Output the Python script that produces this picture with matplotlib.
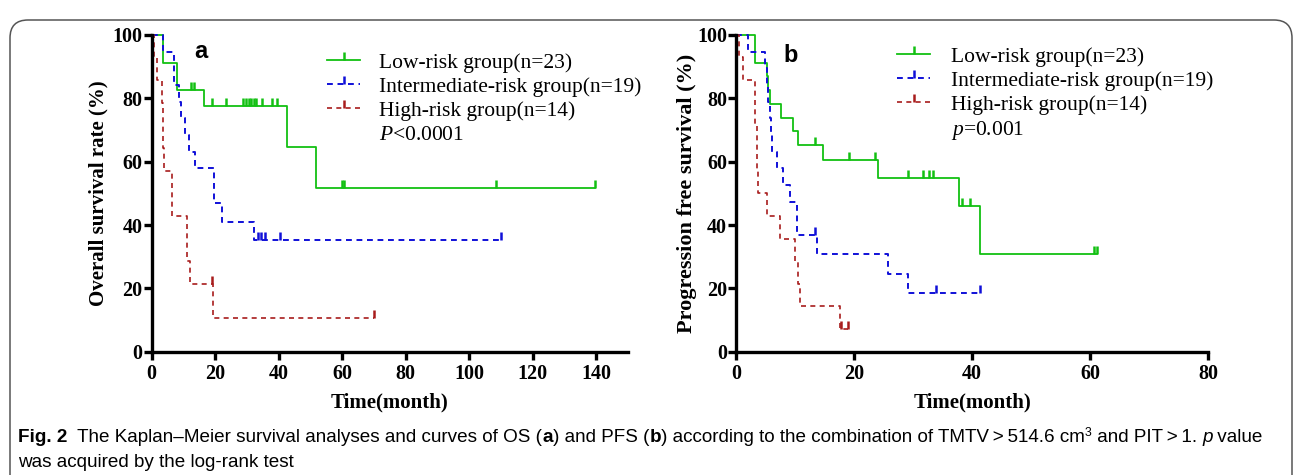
import numpy as np
import matplotlib
matplotlib.use("Agg")
import matplotlib.pyplot as plt
from matplotlib.lines import Line2D
from matplotlib.patches import FancyBboxPatch
from matplotlib.transforms import IdentityTransform

# ---------------- data ----------------
# Panel a: overall survival
os_low_t = [0, 3.7, 7.9, 16.6, 42.6, 51.6, 139.5]
os_low_s = [100, 91.3, 82.6, 77.7, 64.7, 51.8, 51.8]
os_low_cens = [12.3, 13.4, 18.9, 23.4, 28.9, 29.8, 30.5, 31.3, 32.1, 33.0,
               34.7, 37.9, 39.5, 60.0, 60.6, 108.5, 139.5]
os_int_t = [0, 3.7, 7.0, 8.5, 9.3, 10.5, 11.8, 13.7, 19.6, 22.1, 32.1, 110.0]
os_int_s = [100, 94.7, 84.2, 78.9, 73.7, 68.4, 63.2, 57.9, 46.9, 41.0, 35.2, 35.2]
os_int_cens = [33.6, 34.5, 35.8, 40.5, 110.0]
os_high_t = [0, 0.8, 1.6, 3.3, 3.5, 3.7, 3.9, 6.3, 11.0, 12.0, 19.4, 70.0]
os_high_s = [100, 92.9, 85.7, 78.6, 71.4, 64.3, 57.1, 42.9, 28.6, 21.4, 10.7, 10.7]
os_high_cens = [18.9, 70.0]

# Panel b: progression free survival
pfs_low_t = [0, 3.2, 5.2, 5.5, 5.8, 7.6, 9.6, 10.5, 14.7, 24.1, 37.7, 41.4, 61.1]
pfs_low_s = [100, 91.3, 87.0, 82.6, 78.3, 73.9, 69.6, 65.2, 60.5, 55.0, 46.0, 30.8, 30.8]
pfs_low_cens = [13.4, 19.2, 23.6, 29.2, 31.6, 32.7, 33.4, 38.2, 39.7, 60.6, 61.1]
pfs_int_t = [0, 2.0, 4.9, 5.2, 5.5, 5.7, 5.9, 6.1, 6.9, 8.0, 9.2, 10.3, 13.8, 25.8, 29.2, 41.4]
pfs_int_s = [100, 94.7, 89.5, 84.2, 78.9, 73.7, 68.4, 63.2, 57.9, 52.6, 47.4, 36.8, 30.7, 24.6, 18.4, 18.4]
pfs_int_cens = [13.4, 33.8, 41.4]
pfs_high_t = [0, 0.5, 1.2, 3.2, 3.3, 3.5, 3.6, 3.8, 5.2, 7.5, 10.0, 10.5, 10.9, 17.6, 18.9]
pfs_high_s = [100, 92.9, 85.7, 78.6, 71.4, 64.3, 57.1, 50.0, 42.9, 35.7, 28.6, 21.4, 14.3, 7.1, 7.1]
pfs_high_cens = [17.8, 18.9]

group_labels = ["Low-risk group(n=23)", "Intermediate-risk group(n=19)", "High-risk group(n=14)"]
p_labels = [r"$\it{P}$<0.0001", r"$\it{p}$=0.001"]
ylabels = ["Overall survival rate (%)", "Progression free survival (%)"]
xlabel = "Time(month)"
panel_letters = ["a", "b"]
xticks_a = [0, 20, 40, 60, 80, 100, 120, 140]
xticks_b = [0, 20, 40, 60, 80]
yticks = [0, 20, 40, 60, 80, 100]

# ---------------- style ----------------
plt.rcParams['font.family'] = ['Liberation Serif', 'DejaVu Serif']
plt.rcParams['mathtext.fontset'] = 'custom'
plt.rcParams['mathtext.rm'] = 'Liberation Serif'
plt.rcParams['mathtext.it'] = 'Liberation Serif:italic'

GREEN = '#12c012'
BLUE = '#1010d8'
RED = '#a81c1c'

W, H = 1293, 475
fig = plt.figure(figsize=(W / 100, H / 100), dpi=100)


def px_axes(left, top, right, bottom):
    return fig.add_axes([left / W, 1 - bottom / H, (right - left) / W, (bottom - top) / H])


def km(ax, t, s, cens, color, lw, dashes=None):
    line, = ax.step(t, s, where='post', color=color, lw=lw, clip_on=False)
    if dashes is not None:
        line.set_dashes(dashes)
    t_arr = np.asarray(t)
    s_arr = np.asarray(s)
    idx = np.searchsorted(t_arr, np.asarray(cens), side='right') - 1
    ax.plot(cens, s_arr[idx], ls='none', marker=2, ms=5.5, mew=1.8, color=color, clip_on=False)
    h = Line2D([], [], color=color, lw=lw, marker=2, ms=5.5, mew=1.8)
    if dashes is not None:
        h.set_dashes(dashes)
    return h


def style_axes(ax, xmax, xticks, ylab, ylab_size, ylab_pad):
    ax.set_xlim(0, xmax)
    ax.set_ylim(0, 100)
    for sp in ['top', 'right']:
        ax.spines[sp].set_visible(False)
    for sp in ['left', 'bottom']:
        ax.spines[sp].set_linewidth(2.4)
        ax.spines[sp].set_capstyle('projecting')
    ax.set_xticks(xticks)
    ax.set_yticks(yticks)
    ax.set_xticklabels([str(v) for v in xticks], fontweight='bold', fontsize=14.5)
    ax.set_yticklabels([str(v) for v in yticks], fontweight='bold', fontsize=14.5)
    ax.tick_params(axis='y', direction='out', length=5.5, width=2.4, pad=1)
    ax.tick_params(axis='x', direction='out', length=6, width=2.4, pad=3)
    ax.set_xlabel(xlabel, fontweight='bold', fontsize=15, labelpad=6)
    ax.set_ylabel(ylab, fontweight='bold', fontsize=ylab_size, labelpad=ylab_pad)


LEG = dict(loc='upper left', frameon=False, fontsize=15.5, handlelength=1.55,
           borderpad=0, borderaxespad=0, labelspacing=0.18, numpoints=1)

# Panel a
axa = px_axes(151.7, 35, 628, 351.7)
h1 = km(axa, os_low_t, os_low_s, os_low_cens, GREEN, 1.3)
h2 = km(axa, os_int_t, os_int_s, os_int_cens, BLUE, 1.4, dashes=(3, 2.4))
h3 = km(axa, os_high_t, os_high_s, os_high_cens, RED, 1.2, dashes=(3, 2.6))
style_axes(axa, 150, xticks_a, ylabels[0], 15, 3)
axa.legend(handles=[h1, h2, h3, Line2D([], [], ls='none')],
           labels=group_labels + [p_labels[0]],
           bbox_to_anchor=(0.368, 0.944), handletextpad=0.85, **LEG)

# Panel b
axb = px_axes(736, 35, 1208.3, 351.7)
g1 = km(axb, pfs_low_t, pfs_low_s, pfs_low_cens, GREEN, 1.3)
g2 = km(axb, pfs_int_t, pfs_int_s, pfs_int_cens, BLUE, 1.4, dashes=(3, 2.4))
g3 = km(axb, pfs_high_t, pfs_high_s, pfs_high_cens, RED, 1.2, dashes=(3, 2.6))
style_axes(axb, 80, xticks_b, ylabels[1], 16, 0)
axb.legend(handles=[g1, g2, g3, Line2D([], [], ls='none')],
           labels=group_labels + [p_labels[1]],
           bbox_to_anchor=(0.341, 0.963), handletextpad=0.95, **LEG)

# Panel letters
fig.text(201 / W, 1 - 52 / H, panel_letters[0], fontfamily='Liberation Sans',
         fontweight='bold', fontsize=17, ha='center', va='center')
fig.text(791 / W, 1 - 56 / H, panel_letters[1], fontfamily='Liberation Sans',
         fontweight='bold', fontsize=17, ha='center', va='center')

# Frame
frame = FancyBboxPatch((10, -40), 1282, H - 10 + 40 - 10,
                       boxstyle="round,pad=0,rounding_size=18",
                       transform=IdentityTransform(), fill=False,
                       edgecolor='#555555', lw=1.1)
fig.patches.append(frame)

# Caption, composed piece by piece
cap_family = ['Liberation Sans']
cap_size = 13.6
line1 = [("Fig. 2", 'bold', 'normal', 0),
         ("  The Kaplan\u2013Meier survival analyses and curves of OS (", 'normal', 'normal', 0),
         ("a", 'bold', 'normal', 0),
         (") and PFS (", 'normal', 'normal', 0),
         ("b", 'bold', 'normal', 0),
         (") according to the combination of TMTV\u2009>\u2009514.6 cm", 'normal', 'normal', 0),
         ("3", 'normal', 'normal', 1),
         (" and PIT\u2009>\u20091. ", 'normal', 'normal', 0),
         ("p", 'normal', 'italic', 0),
         (" value", 'normal', 'normal', 0)]
line2 = [("was acquired by the log-rank test", 'normal', 'normal', 0)]

fig.canvas.draw()
renderer = fig.canvas.get_renderer()


def put_line(pieces, x0, ybase):
    x = x0
    for txt, wt, st, sup in pieces:
        size = cap_size * (0.65 if sup else 1.0)
        yy = ybase + (6 if sup else 0)
        t = fig.text(x / W, yy / H, txt, fontfamily=cap_family, fontweight=wt,
                     fontstyle=st, fontsize=size, ha='left', va='baseline')
        bb = t.get_window_extent(renderer=renderer)
        x = bb.x1


put_line(line1, 18, H - 442)
put_line(line2, 18, H - 467)

fig.savefig("out.png", dpi=100)
